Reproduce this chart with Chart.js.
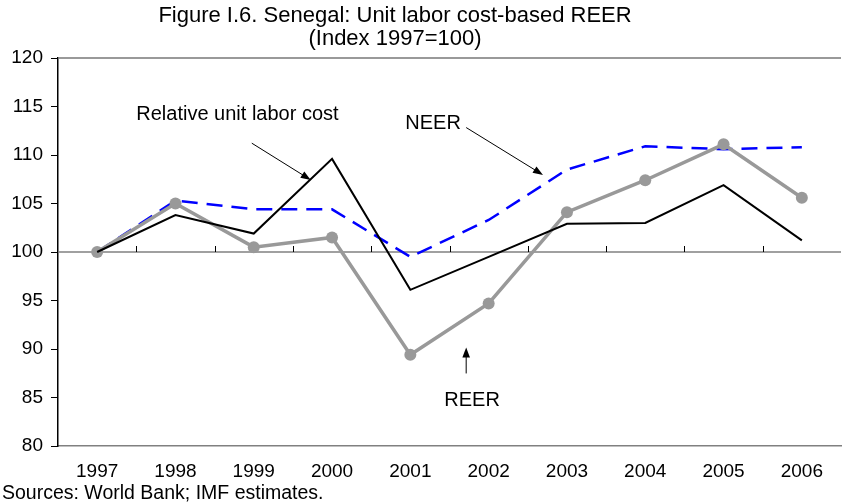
<!DOCTYPE html>
<html>
<head>
<meta charset="utf-8">
<script src="https://cdn.jsdelivr.net/npm/chart.js@4/dist/chart.umd.min.js"></script>
<style>
  html, body { margin: 0; padding: 0; background: #fff; }
</style>
</head>
<body>
<canvas id="c" width="847" height="504"></canvas>
<script>
// chart values
var years = ['1997','1998','1999','2000','2001','2002','2003','2004','2005','2006'];
var rulc = [100, 103.8, 101.9, 109.6, 96.1, 99.5, 102.9, 103.0, 106.9, 101.2];
var neer = [100, 105.3, 104.4, 104.4, 99.5, 103.3, 108.5, 110.9, 110.6, 110.8];
var reer = [100, 105.0, 100.5, 101.5, 89.4, 94.7, 104.1, 107.4, 111.1, 105.6];
var yMin = 80, yMax = 120, yStep = 5;

var titleLines = ['Figure I.6. Senegal: Unit labor cost-based REER', '(Index 1997=100)'];
var source = 'Sources: World Bank; IMF estimates.';

// labels with arrows, placed in data units (category index, index value)
var notes = [
  {text: 'Relative unit labor cost', x: 0.5, y: 114.15, from: [1.975, 111.22], to: [2.728, 107.43]},
  {text: 'NEER', x: 3.936, y: 113.22, from: [4.713, 112.83], to: [5.694, 107.95]},
  {text: 'REER', x: 4.433, y: 84.72, from: [4.713, 87.48], to: [4.713, 90.16]}
];

var FONT = '"Liberation Sans", Arial, sans-serif';

function arrow(ctx, x1, y1, x2, y2){
    var a = Math.atan2(y2 - y1, x2 - x1), len = 10, w = 3.8;
    ctx.beginPath();
    ctx.moveTo(x1, y1);
    ctx.lineTo(x2 - Math.cos(a) * len * 0.8, y2 - Math.sin(a) * len * 0.8);
    ctx.stroke();
    ctx.beginPath();
    ctx.moveTo(x2, y2);
    ctx.lineTo(x2 - Math.cos(a) * len - Math.sin(a) * w, y2 - Math.sin(a) * len + Math.cos(a) * w);
    ctx.lineTo(x2 - Math.cos(a) * len + Math.sin(a) * w, y2 - Math.sin(a) * len - Math.cos(a) * w);
    ctx.closePath();
    ctx.fill();
}

var decor = {
    id: 'decor',
    beforeDatasetsDraw: function(chart){
        var ctx = chart.ctx, a = chart.chartArea;
        var xs = chart.scales.x, ys = chart.scales.y;
        ctx.save();
        // frame line at top
        ctx.strokeStyle = '#777';
        ctx.lineWidth = 1.5;
        ctx.beginPath();
        ctx.moveTo(a.left, ys.getPixelForValue(yMax));
        ctx.lineTo(a.right, ys.getPixelForValue(yMax));
        ctx.stroke();
        // base line at 100 with category ticks
        var y100 = ys.getPixelForValue(100);
        ctx.strokeStyle = '#808080';
        ctx.beginPath();
        ctx.moveTo(a.left, y100);
        ctx.lineTo(a.right, y100);
        ctx.stroke();
        ctx.strokeStyle = '#000';
        ctx.lineWidth = 1;
        for (var i = 0; i < years.length - 1; i++){
            var px = Math.round(xs.getPixelForValue(i + 0.5)) + 0.5;
            ctx.beginPath();
            ctx.moveTo(px, y100);
            ctx.lineTo(px, y100 - 6);
            ctx.stroke();
        }
        ctx.restore();
    },
    afterDraw: function(chart){
        var ctx = chart.ctx;
        var xs = chart.scales.x, ys = chart.scales.y;
        ctx.save();
        ctx.fillStyle = '#000';
        ctx.strokeStyle = '#000';
        ctx.lineWidth = 1;
        ctx.textBaseline = 'middle';
        ctx.font = '20px ' + FONT;
        ctx.textAlign = 'left';
        notes.forEach(function(n){
            ctx.fillText(n.text, xs.getPixelForValue(n.x), ys.getPixelForValue(n.y));
            arrow(ctx, xs.getPixelForValue(n.from[0]), ys.getPixelForValue(n.from[1]),
                       xs.getPixelForValue(n.to[0]), ys.getPixelForValue(n.to[1]));
        });
        // title
        ctx.font = '22px ' + FONT;
        ctx.textAlign = 'center';
        ctx.fillText(titleLines[0], 395, 16);
        ctx.fillText(titleLines[1], 395, 39);
        // source note
        ctx.font = '19.5px ' + FONT;
        ctx.textAlign = 'left';
        ctx.fillText(source, 2, 494);
        ctx.restore();
    }
};

var ctx = document.getElementById('c').getContext('2d');
var myChart = new Chart(ctx, {
    type: 'line',
    data: {
        labels: years,
        datasets: [{
            label: 'Relative unit labor cost',
            data: rulc,
            borderColor: '#000',
            borderWidth: 2,
            pointRadius: 0,
            tension: 0,
            order: 0
        },{
            label: 'REER',
            data: reer,
            borderColor: '#999',
            backgroundColor: '#999',
            borderWidth: 3.5,
            pointRadius: 6,
            pointBorderWidth: 0,
            pointBackgroundColor: '#999',
            tension: 0,
            order: 1
        },{
            label: 'NEER',
            data: neer,
            borderColor: '#0000ff',
            borderWidth: 2.5,
            borderDash: [16, 9],
            pointRadius: 0,
            tension: 0,
            order: 2
        }]
    },
    options: {
        responsive: false,
        animation: false,
        layout: { padding: { top: 58, left: 0, right: 0, bottom: 0 } },
        plugins: {
            legend: { display: false },
            title: { display: false },
            tooltip: { enabled: false }
        },
        scales: {
            x: {
                type: 'category',
                offset: true,
                grid: { display: false, drawTicks: false },
                border: { display: true, color: '#808080', width: 1.5 },
                ticks: { color: '#000', font: { family: FONT, size: 19 }, padding: 14, maxRotation: 0, autoSkip: false },
                afterFit: function(s){ s.height = 58; }
            },
            y: {
                min: yMin,
                max: yMax,
                ticks: { stepSize: yStep, color: '#000', font: { family: FONT, size: 19 }, padding: 8 },
                grid: { drawOnChartArea: false, drawTicks: true, tickLength: 7, color: '#000' },
                border: { display: true, color: '#000', width: 1.5 },
                afterFit: function(s){ s.width = 58; }
            }
        }
    },
    plugins: [decor]
});
</script>
</body>
</html>
